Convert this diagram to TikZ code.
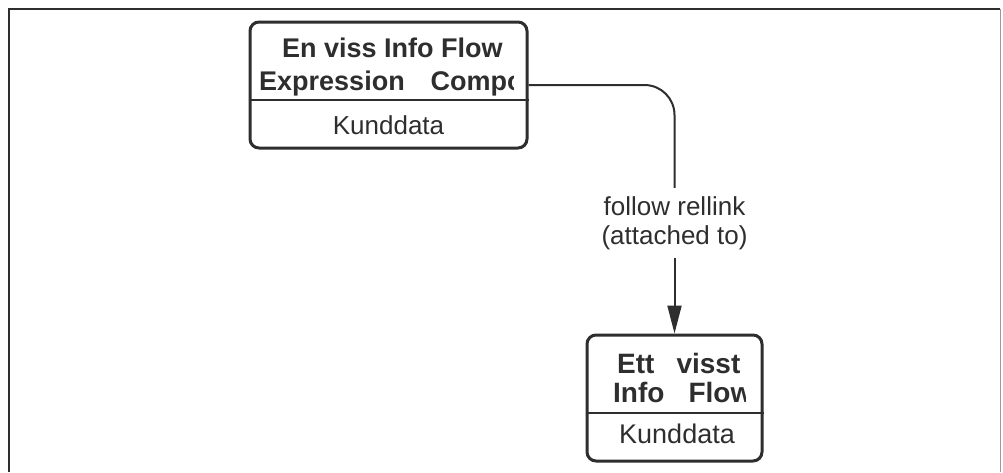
\documentclass[tikz,border=0pt]{standalone}
\usepackage{fontspec}
\setmainfont{Liberation Sans}
\usetikzlibrary{arrows.meta, positioning, calc}
\definecolor{ink}{HTML}{2E2E2E}
\definecolor{edge}{HTML}{9A9A9A}

\begin{document}
\begin{tikzpicture}[
  x=1pt, y=-1pt,
  infobox/.style={
    draw=ink, line width=3pt, rounded corners=9pt, inner sep=0pt
  },
  divline/.style={draw=ink, line width=2.5pt},
  hdtxt/.style={font=\fontsize{#1}{#1}\selectfont\bfseries, text=ink,
    inner sep=0pt, anchor=base west},
  kdtxt/.style={font=\fontsize{#1}{#1}\selectfont, text=ink,
    inner sep=0pt, anchor=base},
  conn/.style={line width=2pt, draw=ink},
  rellbl/.style={font=\fontsize{26}{29}\selectfont, text=ink, align=center,
    inner sep=0pt, minimum height=70pt},
]

% Background
\useasboundingbox (0,0) rectangle (1003,472);
\fill[white] (0,0) rectangle (1003,472);
\draw[ink, line width=2.5pt] (9,472) -- (9,9) -- (1000,9);
\draw[edge, line width=0.8pt] (1000,9) -- (1000,472);

% Source box
\node[infobox, minimum width=277pt, minimum height=126pt] (src) at (388.5,85) {};
\draw[divline] (src.west |- 0,100) -- (src.east |- 0,100);
\begin{scope}
  \clip (252,24) rectangle (513,99);
  \node[hdtxt=27] (srcA) at (282,57) {En viss Info Flow};
  \node[hdtxt=27] (srcB) at (259,90) {Expression\hspace{26pt}Compo};
\end{scope}
\node[kdtxt=26] (srcK) at (388.5,134) {Kunddata};

% Target box
\node[infobox, minimum width=175pt, minimum height=126pt] (dst) at (674.5,398) {};
\draw[divline] (dst.west |- 0,413) -- (dst.east |- 0,413);
\begin{scope}
  \clip (589,337) rectangle (745,412);
  \node[hdtxt=28] (dstA) at (617,373) {Ett\hspace{22pt}visst};
  \node[hdtxt=28] (dstB) at (613,402) {Info\hspace{24pt}Flow};
\end{scope}
\node[kdtxt=27] (dstK) at (677,443) {Kunddata};

% Connector
\node[rellbl] (rel) at (674.5,223) {follow rellink\\(attached to)};
\draw[conn, rounded corners=30pt] (src.east) -| (rel.north);
\draw[conn, -{Triangle[length=28pt, width=14pt]}] (rel.south) -- (dst.north);

\end{tikzpicture}
\end{document}
